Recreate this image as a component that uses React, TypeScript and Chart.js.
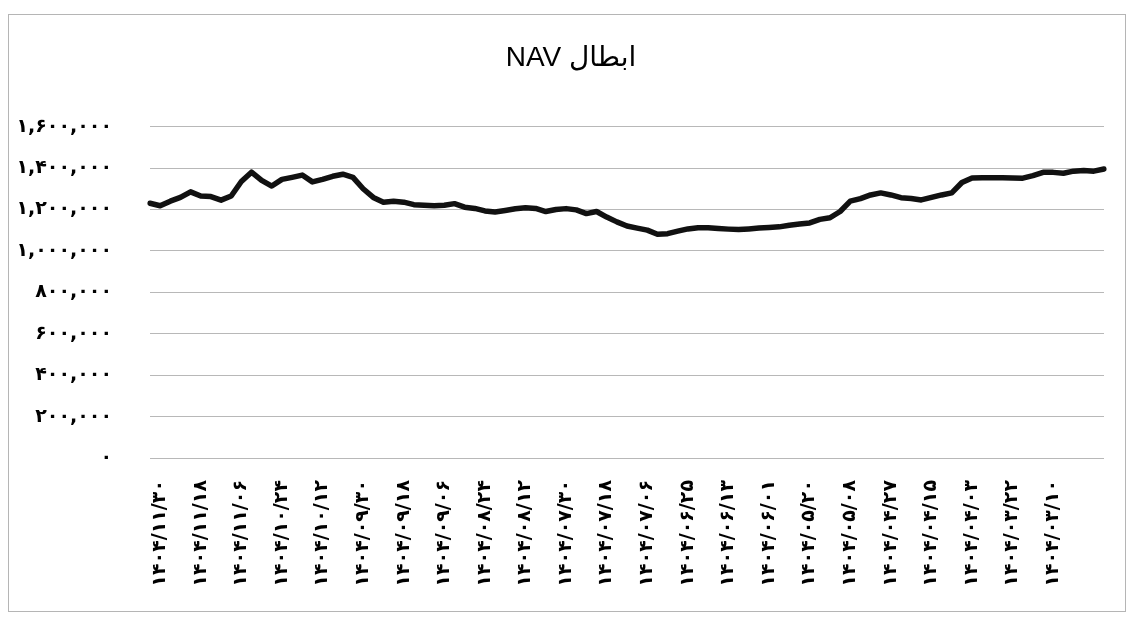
import React, { useEffect, useRef } from "react";
import { Chart, registerables } from "chart.js";

Chart.register(...registerables);

const TITLE = "\u202Bابطال NAV\u202C";

const DATES: string[] = [
  '۱۴۰۴/۱۱/۳۰','۱۴۰۴/۱۱/۲۷','۱۴۰۴/۱۱/۲۴','۱۴۰۴/۱۱/۲۱','۱۴۰۴/۱۱/۱۸','۱۴۰۴/۱۱/۱۵','۱۴۰۴/۱۱/۱۲','۱۴۰۴/۱۱/۰۹','۱۴۰۴/۱۱/۰۶','۱۴۰۴/۱۱/۰۳',
  '۱۴۰۴/۱۰/۳۰','۱۴۰۴/۱۰/۲۷','۱۴۰۴/۱۰/۲۴','۱۴۰۴/۱۰/۲۱','۱۴۰۴/۱۰/۱۸','۱۴۰۴/۱۰/۱۵','۱۴۰۴/۱۰/۱۲','۱۴۰۴/۱۰/۰۹','۱۴۰۴/۱۰/۰۶','۱۴۰۴/۱۰/۰۳',
  '۱۴۰۴/۰۹/۳۰','۱۴۰۴/۰۹/۲۷','۱۴۰۴/۰۹/۲۴','۱۴۰۴/۰۹/۲۱','۱۴۰۴/۰۹/۱۸','۱۴۰۴/۰۹/۱۵','۱۴۰۴/۰۹/۱۲','۱۴۰۴/۰۹/۰۹','۱۴۰۴/۰۹/۰۶','۱۴۰۴/۰۹/۰۳',
  '۱۴۰۴/۰۸/۳۰','۱۴۰۴/۰۸/۲۷','۱۴۰۴/۰۸/۲۴','۱۴۰۴/۰۸/۲۱','۱۴۰۴/۰۸/۱۸','۱۴۰۴/۰۸/۱۵','۱۴۰۴/۰۸/۱۲','۱۴۰۴/۰۸/۰۹','۱۴۰۴/۰۸/۰۶','۱۴۰۴/۰۸/۰۳',
  '۱۴۰۴/۰۷/۳۰','۱۴۰۴/۰۷/۲۷','۱۴۰۴/۰۷/۲۴','۱۴۰۴/۰۷/۲۱','۱۴۰۴/۰۷/۱۸','۱۴۰۴/۰۷/۱۵','۱۴۰۴/۰۷/۱۲','۱۴۰۴/۰۷/۰۹','۱۴۰۴/۰۷/۰۶','۱۴۰۴/۰۷/۰۳',
  '۱۴۰۴/۰۶/۳۱','۱۴۰۴/۰۶/۲۸','۱۴۰۴/۰۶/۲۵','۱۴۰۴/۰۶/۲۲','۱۴۰۴/۰۶/۱۹','۱۴۰۴/۰۶/۱۶','۱۴۰۴/۰۶/۱۳','۱۴۰۴/۰۶/۱۰','۱۴۰۴/۰۶/۰۷','۱۴۰۴/۰۶/۰۴',
  '۱۴۰۴/۰۶/۰۱','۱۴۰۴/۰۵/۲۹','۱۴۰۴/۰۵/۲۶','۱۴۰۴/۰۵/۲۳','۱۴۰۴/۰۵/۲۰','۱۴۰۴/۰۵/۱۷','۱۴۰۴/۰۵/۱۴','۱۴۰۴/۰۵/۱۱','۱۴۰۴/۰۵/۰۸','۱۴۰۴/۰۵/۰۵',
  '۱۴۰۴/۰۵/۰۲','۱۴۰۴/۰۴/۳۰','۱۴۰۴/۰۴/۲۷','۱۴۰۴/۰۴/۲۴','۱۴۰۴/۰۴/۲۱','۱۴۰۴/۰۴/۱۸','۱۴۰۴/۰۴/۱۵','۱۴۰۴/۰۴/۱۲','۱۴۰۴/۰۴/۰۹','۱۴۰۴/۰۴/۰۶',
  '۱۴۰۴/۰۴/۰۳','۱۴۰۴/۰۳/۳۱','۱۴۰۴/۰۳/۲۸','۱۴۰۴/۰۳/۲۵','۱۴۰۴/۰۳/۲۲','۱۴۰۴/۰۳/۱۹','۱۴۰۴/۰۳/۱۶','۱۴۰۴/۰۳/۱۳','۱۴۰۴/۰۳/۱۰','۱۴۰۴/۰۳/۰۷',
  '۱۴۰۴/۰۳/۰۴','۱۴۰۴/۰۳/۰۱','۱۴۰۴/۰۲/۲۹','۱۴۰۴/۰۲/۲۶','۱۴۰۴/۰۲/۲۳'
];

const NAV_VALUES: number[] = [
  1230000, 1218000, 1240000, 1258000, 1285000, 1265000, 1262000, 1245000, 1265000, 1335000,
  1380000, 1340000, 1313000, 1345000, 1355000, 1366000, 1333000, 1345000, 1360000, 1370000,
  1355000, 1300000, 1258000, 1235000, 1240000, 1235000, 1223000, 1220000, 1218000, 1220000,
  1228000, 1211000, 1205000, 1193000, 1188000, 1195000, 1203000, 1208000, 1205000, 1190000,
  1200000, 1204000, 1198000, 1180000, 1190000, 1163000, 1140000, 1120000, 1110000, 1100000,
  1080000, 1083000, 1095000, 1106000, 1112000, 1112000, 1108000, 1105000, 1103000, 1106000,
  1110000, 1113000, 1116000, 1124000, 1130000, 1135000, 1152000, 1160000, 1190000, 1240000,
  1252000, 1270000, 1280000, 1270000, 1257000, 1253000, 1246000, 1258000, 1270000, 1280000,
  1330000, 1352000, 1353000, 1353000, 1353000, 1352000, 1351000, 1363000, 1379000, 1379000,
  1375000, 1385000, 1388000, 1385000, 1395000
];

const Y_TICK_VALUES: number[] = [0, 200000, 400000, 600000, 800000, 1000000, 1200000, 1400000, 1600000];
const Y_TICK_LABELS: string[] = ['۰', '۲۰۰,۰۰۰', '۴۰۰,۰۰۰', '۶۰۰,۰۰۰', '۸۰۰,۰۰۰', '۱,۰۰۰,۰۰۰', '۱,۲۰۰,۰۰۰', '۱,۴۰۰,۰۰۰', '۱,۶۰۰,۰۰۰'];
const LABEL_EVERY = 4;
const LAST_LABELED = 88;

const bgPlugin = {
  id: "bgFrame",
  beforeDraw(chart: any) {
    const ctx = chart.ctx;
    ctx.save();
    ctx.fillStyle = "#ffffff";
    ctx.fillRect(0, 0, chart.width, chart.height);
    ctx.strokeStyle = "#b5b5b5";
    ctx.lineWidth = 1;
    ctx.strokeRect(8.5, 14.5, 1117, 597);
    ctx.restore();
  },
};

export default function App() {
  const ref = useRef<HTMLCanvasElement | null>(null);
  useEffect(() => {
    if (!ref.current) return;
    const chart = new Chart(ref.current, {
      type: "line",
      data: {
        labels: DATES,
        datasets: [
          {
            data: NAV_VALUES,
            borderColor: "#111111",
            borderWidth: 5.5,
            pointRadius: 0,
            tension: 0,
            fill: false,
            borderJoinStyle: "round",
            borderCapStyle: "round",
          },
        ],
      },
      options: {
        responsive: false,
        animation: false,
        layout: { padding: { left: 12, right: 0, top: 0, bottom: 0 } },
        plugins: {
          legend: { display: false },
          tooltip: { enabled: false },
          title: {
            display: true,
            text: TITLE,
            color: "#000",
            font: { family: "'Liberation Sans', Arial, 'DejaVu Sans'", size: 28, weight: "normal" },
            padding: { top: 41, bottom: 52 },
          },
        },
        scales: {
          x: {
            type: "category",
            offset: false,
            grid: { display: false, drawTicks: false },
            border: { display: false },
            afterFit: (s: any) => { s.height = 161; },
            ticks: {
              autoSkip: false,
              minRotation: 90,
              maxRotation: 90,
              padding: 22,
              labelOffset: 10,
              color: "#000",
              font: { family: "'DejaVu Sans'", size: 19, weight: "bold" },
              callback: function (this: any, value: any, index: number) {
                return index % LABEL_EVERY === 0 && index <= LAST_LABELED ? DATES[index] : null;
              },
            },
          },
          y: {
            min: 0,
            max: 1600000,
            afterFit: (s: any) => { s.width = 138; },
            afterBuildTicks: (s: any) => { s.ticks = Y_TICK_VALUES.map((v) => ({ value: v })); },
            grid: { color: "#b8b8b8", lineWidth: 1, drawTicks: false },
            border: { display: false },
            ticks: {
              padding: 38,
              color: "#000",
              font: { family: "'DejaVu Sans'", size: 19, weight: "bold" },
              callback: (value: any) => {
                const i = Y_TICK_VALUES.indexOf(Number(value));
                return i >= 0 ? Y_TICK_LABELS[i] : "";
              },
            },
          },
          yRightSpace: {
            position: "right",
            display: true,
            grid: { display: false, drawTicks: false },
            border: { display: false },
            ticks: { display: false },
            afterFit: (s: any) => { s.width = 26; },
          },
        },
      },
      plugins: [bgPlugin],
    });
    return () => chart.destroy();
  }, []);
  return (
    <div style={{ position: "absolute", left: 0, top: 0, width: 1130, height: 619 }}>
      <canvas ref={ref} width={1130} height={619} style={{ display: "block" }} />
    </div>
  );
}
